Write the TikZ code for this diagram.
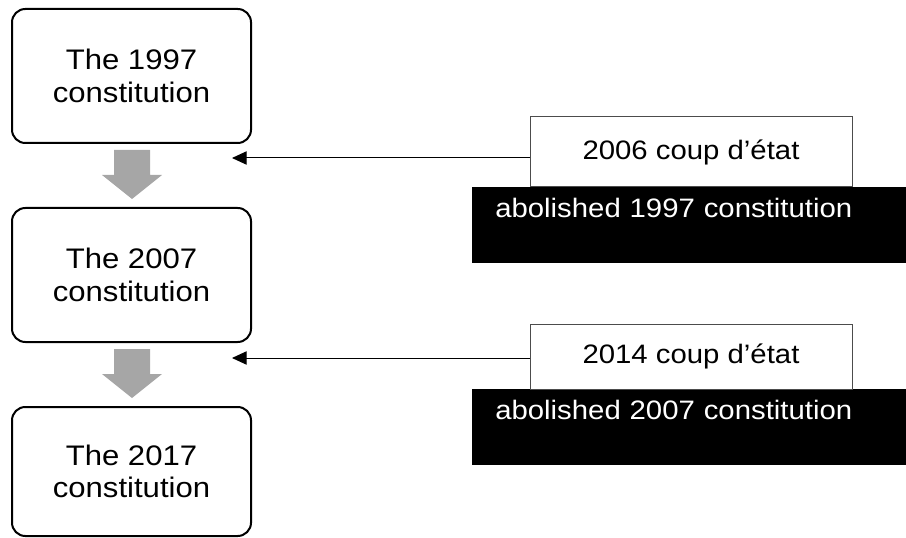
\documentclass[tikz,border=0pt]{standalone}
\usepackage{fontspec}
\setmainfont{Liberation Sans}[FakeStretch=1.1]
\usetikzlibrary{arrows.meta}
\begin{document}
% one unit = one pixel of a 906 x 538 canvas, y grows downwards
\begin{tikzpicture}[x=0.75pt,y=-0.75pt,
  txt/.style={font=\fontsize{20}{24}\selectfont},
  era/.style={font=\fontsize{21.2}{24.5}\selectfont, draw=black, line width=1.5pt,
    rounded corners=10pt, minimum width=179.25pt, align=center, inner sep=0pt},
  coup/.style={txt, draw=black!70, line width=0.75pt, fill=white,
    minimum width=241.5pt, inner sep=0pt},
  effect/.style={txt, fill=black, text=white, anchor=north west,
    minimum width=330pt, minimum height=57pt, inner xsep=17.25pt, inner ysep=0pt,
    text width=295.5pt, align=left, text height=14pt, text depth=25.25pt},
  flow/.style={fill=black!35, draw=none},
  hit/.style={line width=0.75pt, -{Triangle[length=11pt,width=10pt]}}
]
\useasboundingbox (0,0) rectangle (906,538);
\clip (0,0) rectangle (906,538);

% the three constitutions
\node[era, minimum height=100.5pt] (c1997) at (131.5,76) {The 1997\\constitution};
\node[era, minimum height=100.5pt] (c2007) at (131.5,275) {The 2007\\constitution};
\node[era, minimum height=96.75pt] (c2017) at (131.5,471.5) {The 2017\\constitution};

% grey block arrows between them
\fill[flow] (114,150) -- (150,150) -- (150,175) -- (162,175) -- (132,199)
  -- (102,175) -- (114,175) -- cycle;
\fill[flow] (114,349) -- (150,349) -- (150,374) -- (162,374) -- (132,398)
  -- (102,374) -- (114,374) -- cycle;

% coups and what they abolished
\node[effect] (ab1997) at (472,187) {abolished 1997 constitution};
\node[coup, minimum height=52.5pt] (coup2006) at (691,152) {2006 coup d’état};
\node[effect] (ab2007) at (472,389) {abolished 2007 constitution};
\node[coup, minimum height=48.75pt] (coup2014) at (691,356.5) {2014 coup d’état};

% pointers back to the transitions
\coordinate (p1) at (232,158);
\coordinate (p2) at (232,358);
\draw[hit] (p1 -| coup2006.west) -- (p1);
\draw[hit] (p2 -| coup2014.west) -- (p2);
\end{tikzpicture}
\end{document}
